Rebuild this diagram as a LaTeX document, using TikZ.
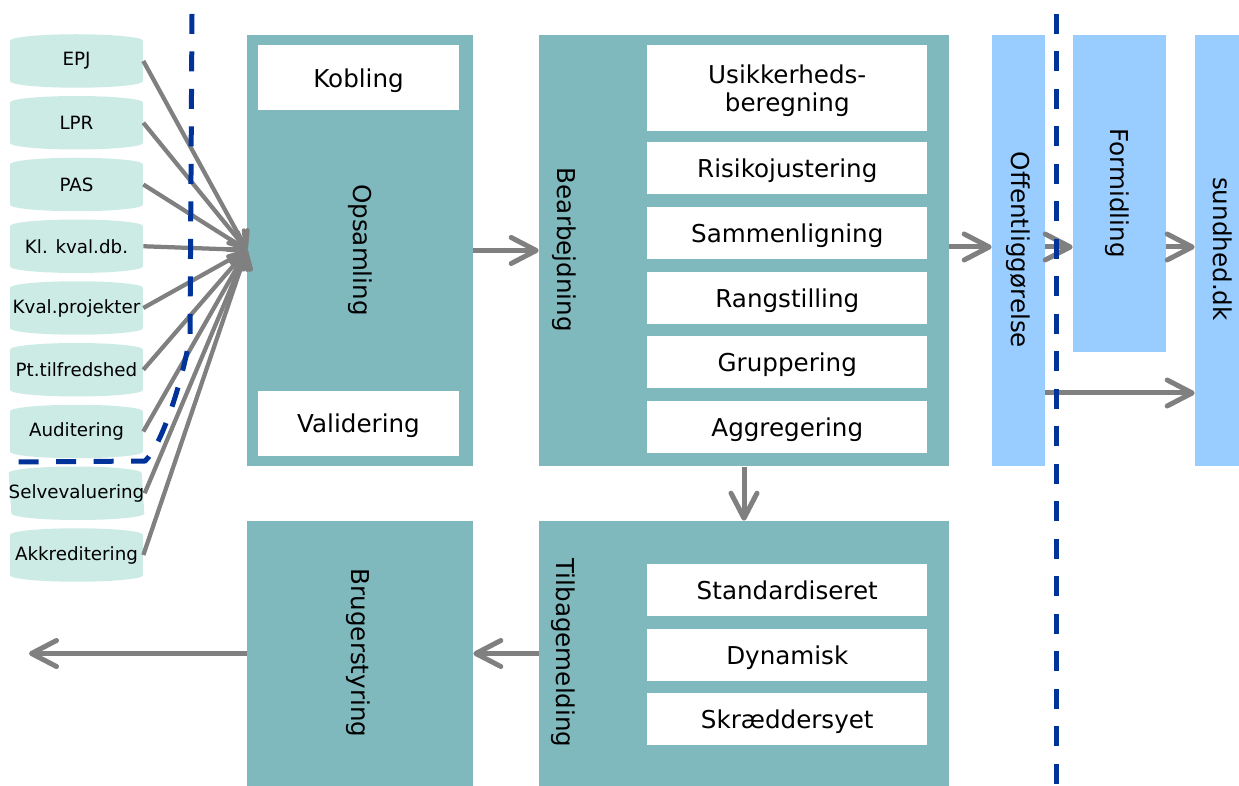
\documentclass[tikz,border=0pt]{standalone}
\usepackage{fontspec}
\setmainfont{DejaVu Sans}
\usetikzlibrary{arrows.meta,positioning,shapes.geometric}
\definecolor{kpteal}{HTML}{7FB9BE}
\definecolor{kpmint}{HTML}{CCEBE5}
\definecolor{kpblue}{HTML}{99CCFF}
\definecolor{kpnavy}{HTML}{003399}
\definecolor{kpgray}{HTML}{808080}
\newcommand{\mainfnt}{\fontsize{14}{16.3}\selectfont}
\newcommand{\dbfnt}{\fontsize{10.4}{11}\selectfont}

\begin{document}
\begin{tikzpicture}[x=0.02cm,y=-0.02cm,
  stage/.style={rectangle,fill=kpteal,inner sep=0pt},
  pub/.style={rectangle,fill=kpblue,inner sep=0pt},
  sub/.style={rectangle,fill=white,inner sep=0pt,minimum width=5.61cm,
              minimum height=1.034cm,font=\mainfnt,align=center,
              text depth=0pt},
  vlbl/.style={rotate=-90,font=\mainfnt,inner sep=0pt},
  db/.style={rectangle,minimum width=2.66cm,minimum height=1.07cm,
             inner sep=0pt,font=\dbfnt,
             path picture={\fill[kpmint]
               ([yshift=-0.13cm]path picture bounding box.north west)
               arc[start angle=180,end angle=0,x radius=1.33cm,y radius=0.13cm]
               -- ([yshift=0.13cm]path picture bounding box.south east)
               arc[start angle=0,end angle=-180,x radius=1.33cm,y radius=0.13cm]
               -- cycle;}},
  arr/.style={-{Straight Barb[length=0.5cm,width=0.52cm,round]},
              line width=0.1cm,kpgray},
  inarr/.style={-{Straight Barb[length=0.3cm,width=0.4cm,round]},
                line width=0.085cm,kpgray},
  border/.style={kpnavy,line width=0.1cm,dash pattern=on 0.4cm off 0.35cm}
]
  \useasboundingbox (0,0) rectangle (1239,786);

  % ---- Data sources ------------------------------------------
  \node[db] (epj)      at (76.5, 61)    {EPJ};
  \node[db] (lpr)      at (76.5,122.75) {LPR};
  \node[db] (pas)      at (76.5,184.5)  {PAS};
  \node[db] (klkval)   at (76.5,246.25) {Kl. kval.db.};
  \node[db] (kvalproj) at (76.5,308)    {Kval.projekter};
  \node[db] (pttilf)   at (76.5,369.75) {Pt.tilfredshed};
  \node[db] (audit)    at (76.5,431.5)  {Auditering};
  \node[db] (selveval) at (76.5,493.25) {Selvevaluering};
  \node[db] (akkred)   at (76.5,555)    {Akkreditering};

  % ---- Opsamling ---------------------------------------------
  \node[stage,minimum width=4.52cm,minimum height=8.64cm] (opsamling)
    at (360,250.5) {};
  \node[sub,minimum width=4.02cm,minimum height=1.3cm] (kobling)
    at (358.5,78) {Kobling};
  \node[sub,minimum width=4.02cm,minimum height=1.3cm] (validering)
    at (358.5,423.5) {Validering};
  \node[vlbl] (opsamling-lbl) at (360,250) {Opsamling};

  % ---- Bearbejdning ------------------------------------------
  \node[stage,minimum width=8.2cm,minimum height=8.64cm] (bearbejdning)
    at (744,250.5) {};
  \node[vlbl] (bearbejdning-lbl) at (564,250) {Bearbejdning};
  \node[sub,minimum height=1.73cm] (usikker) at (787.25,88.25)
    {Usikkerheds-\\beregning};
  \node[sub] (risiko)  at (787.25,167.85) {Risikojustering};
  \node[sub] (sammen)  at (787.25,232.85) {Sammenligning};
  \node[sub] (rang)    at (787.25,297.85) {Rangstilling};
  \node[sub] (grupper) at (787.25,361.85) {Gruppering};
  \node[sub] (aggr)    at (787.25,426.85) {Aggregering};

  % ---- Tilbagemelding ----------------------------------------
  \node[stage,minimum width=8.2cm,minimum height=5.3cm] (tilbage)
    at (744,653.5) {};
  \node[vlbl] (tilbage-lbl) at (563.5,653) {Tilbagemelding};
  \node[sub] (standard) at (787.25,590) {Standardiseret};
  \node[sub] (dynamisk) at (787.25,655) {Dynamisk};
  \node[sub] (skraedder) at (787.25,719) {Skræddersyet};

  % ---- Brugerstyring -----------------------------------------
  \node[stage,minimum width=4.52cm,minimum height=5.3cm] (bruger)
    at (360,653.5) {};
  \node[vlbl] (bruger-lbl) at (358,653) {Brugerstyring};

  % ---- Publication -------------------------------------------
  \node[pub,minimum width=1.06cm,minimum height=8.64cm] (offentlig)
    at (1018.5,250.5) {};
  \node[vlbl] (offentlig-lbl) at (1018,250) {Offentliggørelse};
  \node[pub,minimum width=1.86cm,minimum height=6.35cm] (formidling)
    at (1119.5,193.25) {};
  \node[vlbl] (formidling-lbl) at (1117,193) {Formidling};
  \node[pub,minimum width=1.1cm,minimum height=8.64cm] (sundhed)
    at (1222.5,250.5) {};
  \node[vlbl] (sundhed-lbl) at (1223,249) {sundhed.dk};

  % ---- Arrows ------------------------------------------------
  \coordinate (hub) at (247,250);
  \coordinate (toprow) at (0,247);
  \coordinate (lowrow) at (0,393);
  \coordinate (out) at (29,653.5);

  \draw[inarr] (epj.east) -- (hub);
  \draw[inarr] (lpr.east) -- (hub);
  \draw[inarr] (pas.east) -- (hub);
  \draw[inarr] (klkval.east) -- (hub);
  \draw[inarr] (kvalproj.east) -- (hub);
  \draw[inarr] (pttilf.east) -- (hub);
  \draw[inarr] (audit.east) -- (hub);
  \draw[inarr] (selveval.east) -- (hub);
  \draw[inarr] (akkred.east) -- (hub);

  \draw[arr] (opsamling.east) -- (bearbejdning.west);
  \draw[arr] (bearbejdning.east |- toprow) -- (offentlig.west |- toprow);
  \draw[arr] (offentlig.east |- toprow) -- (formidling.west |- toprow);
  \draw[arr] (formidling.east |- toprow) -- (sundhed.west |- toprow);
  \draw[arr] (offentlig.east |- lowrow) -- (sundhed.west |- lowrow);
  \draw[arr] (bearbejdning.south) -- (tilbage.north);
  \draw[arr] (tilbage.west) -- (bruger.east);
  \draw[arr] (bruger.west) -- (out);

  % ---- Boundaries --------------------------------------------
  \draw[border] (192,14) -- (190,335) .. controls (186,365) and (165,442)
    .. (145,461) -- (12,462);
  \draw[border] (1056.5,14) -- (1056.5,786);

\end{tikzpicture}
\end{document}
